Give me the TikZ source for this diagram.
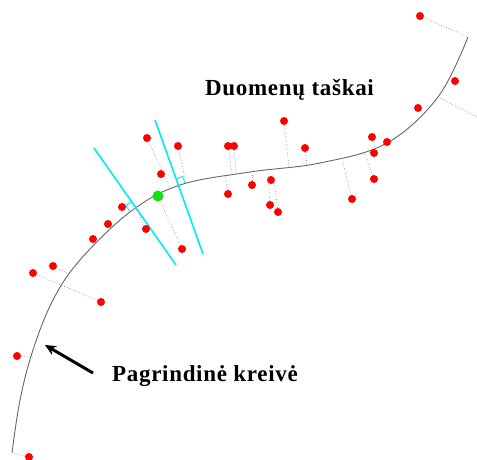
\documentclass[tikz,border=0pt]{standalone}
\usepackage{fontspec}
\setmainfont{Liberation Serif}
\newfontfamily\labfont[LetterSpace=3]{Liberation Serif}
\usetikzlibrary{arrows.meta}
\definecolor{cyanline}{RGB}{0,235,245}
\definecolor{dotred}{RGB}{255,0,0}
\definecolor{dotgreen}{RGB}{20,225,20}
\tikzset{
  dat/.style={circle,fill=dotred,draw=none,minimum size=8pt,inner sep=0pt},
  cur/.style={circle,fill=dotgreen,draw=none,minimum size=11pt,inner sep=0pt},
  proj/.style={draw=gray!90,dotted,line width=0.7pt},
  curve/.style={draw=black!60,line width=0.9pt},
  normal/.style={draw=cyanline,line width=1.6pt},
  rbox/.style={draw=cyanline,line width=0.9pt},
  lab/.style={font=\labfont\bfseries\fontsize{23}{26}\selectfont,inner sep=0pt,anchor=base west},
  pointer/.style={draw=black,line width=3pt,-{Stealth[length=11pt,width=10pt]}}
}
\begin{document}
\begin{tikzpicture}[x=1pt,y=-1pt]
\useasboundingbox (0,0) rectangle (477,459);
% main curve
\draw[curve] plot[smooth,tension=0.6] coordinates {(12,453) (20,400) (33,350) (53,300) (80,260) (130,212) (180,185) (250,172) (320,163) (387,143) (438,97) (468,37)};
% feet on curve
\coordinate (f1) at (468,37);
\coordinate (f3) at (438,97);
\coordinate (e3) at (477,117);
\coordinate (f5) at (375,147);
\coordinate (f8) at (365,154);
\coordinate (f9) at (343,162);
\coordinate (f10) at (232,173);
\coordinate (f11) at (236,173);
\coordinate (f12) at (289,168);
\coordinate (f13) at (307,165);
\coordinate (f14) at (225,176);
\coordinate (f15) at (252,173);
\coordinate (f17) at (268,173);
\coordinate (f18) at (273,173);
\coordinate (f19) at (170,188);
\coordinate (f20) at (185,178);
\coordinate (IL) at (135.5,207.3);
\coordinate (IR) at (178.5,185.5);
\coordinate (f26) at (67,273);
\coordinate (f27) at (33,357);
\coordinate (f28) at (12,453);
% normals
\coordinate (nla) at (94,148);
\coordinate (nlb) at (176,265);
\coordinate (nra) at (155,120);
\coordinate (nrb) at (203,254);
\draw[normal] (nla) -- (nlb);
\draw[normal] (nra) -- (nrb);
\draw[rbox] (131.5,201.6) -- (125.8,205.6) -- (129.8,211.3);
\draw[rbox] (176.1,178.9) -- (182.7,176.5) -- (185.1,183.1);
% data points
\node[dat] (p1) at (420,16) {};
\node[dat] (p2) at (455,81) {};
\node[dat] (p4) at (418,108) {};
\node[dat] (p5) at (372,137) {};
\node[dat] (p6) at (387,142) {};
\node[dat] (p7) at (374,153) {};
\node[dat] (p8) at (374,179) {};
\node[dat] (p9) at (352,199) {};
\node[dat] (p10) at (228,146) {};
\node[dat] (p11) at (234,146) {};
\node[dat] (p12) at (284,121) {};
\node[dat] (p13) at (305,148) {};
\node[dat] (p14) at (228,194) {};
\node[dat] (p15) at (252,185) {};
\node[dat] (p16) at (271,180) {};
\node[dat] (p17) at (270,205) {};
\node[dat] (p18) at (278,212) {};
\node[dat] (p19) at (147,138) {};
\node[dat] (p20) at (178,146) {};
\node[dat] (p21) at (161,174) {};
\node[dat] (p22) at (122,207) {};
\node[dat] (p23) at (108,224) {};
\node[dat] (p24) at (93,239) {};
\node[dat] (p25) at (146,229) {};
\node[dat] (p26) at (182,249) {};
\node[dat] (p29) at (33,273) {};
\node[dat] (p30) at (53,266) {};
\node[dat] (p31) at (101,302) {};
\node[dat] (p27) at (17,356) {};
\node[dat] (p28) at (29,457) {};
\node[cur] (g) at (158,196) {};
% projections
\draw[proj] (p1) -- (f1);
\draw[proj] (f3) -- (e3);
\draw[proj] (p5) -- (f5);
\draw[proj] (p8) -- (f8);
\draw[proj] (p9) -- (f9);
\draw[proj] (p10) -- (f10);
\draw[proj] (p11) -- (f11);
\draw[proj] (p12) -- (f12);
\draw[proj] (p13) -- (f13);
\draw[proj] (p14) -- (f14);
\draw[proj] (p15) -- (f15);
\draw[proj] (p17) -- (f17);
\draw[proj] (p18) -- (f18);
\draw[proj] (p19) -- (f19);
\draw[proj] (p20) -- (f20);
\draw[proj] (p25) -- (IL);
\draw[proj] (p26) -- (g);
\draw[proj] (p29) -- (p31);
\draw[proj] (p30) -- (f26);
\draw[proj] (p27) -- (f27);
\draw[proj] (p28) -- (f28);
% labels
\node[lab] (t1) at (205,95) {Duomenų taškai};
\node[lab] (t2) at (112,381) {Pagrindinė kreivė};
\coordinate (atail) at (93,373);
\coordinate (ahead) at (45,345);
\draw[pointer] (atail) -- (ahead);
\end{tikzpicture}
\end{document}
